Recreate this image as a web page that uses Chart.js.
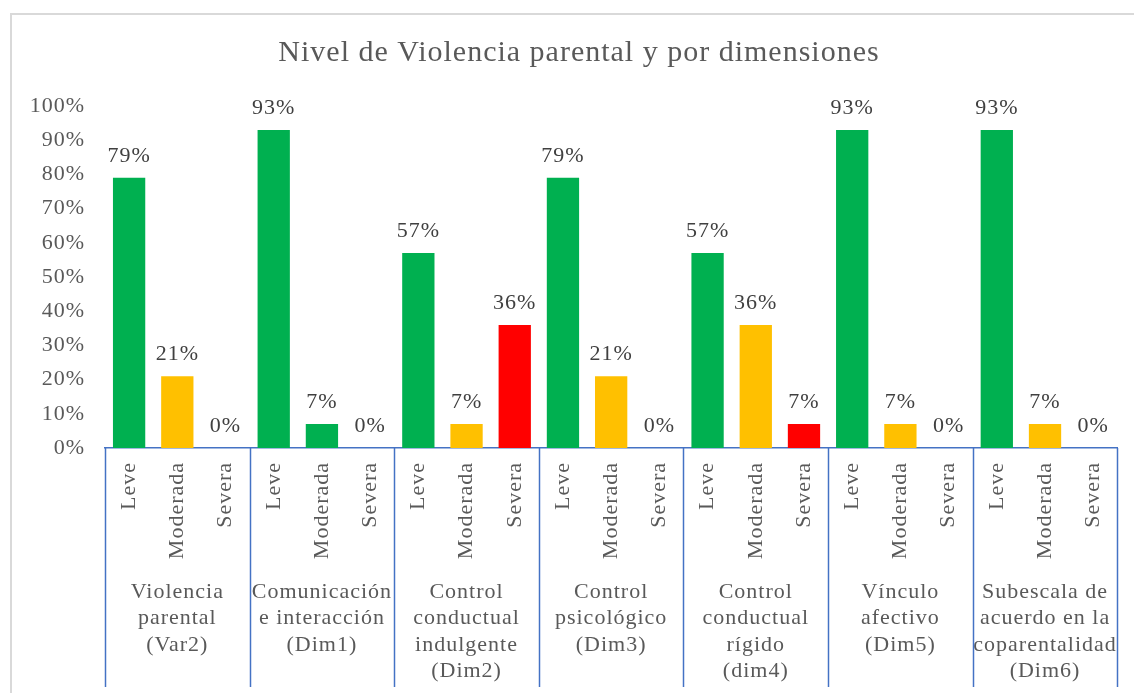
<!DOCTYPE html>
<html>
<head>
<meta charset="utf-8">
<title>Nivel de Violencia parental y por dimensiones</title>
<script src="https://cdn.jsdelivr.net/npm/chart.js@4.4.1/dist/chart.umd.min.js"></script>
<style>
  html, body { margin: 0; padding: 0; background: #fff; }
  #wrap { position: relative; width: 1134px; height: 693px; }
</style>
</head>
<body>
<div id="wrap"><canvas id="chart"></canvas></div>
<script>
// Group labels (second level of the category axis)
const groups = [
  ['Violencia', 'parental', '(Var2)'],
  ['Comunicación', 'e interacción', '(Dim1)'],
  ['Control', 'conductual', 'indulgente', '(Dim2)'],
  ['Control', 'psicológico', '(Dim3)'],
  ['Control', 'conductual', 'rígido', '(dim4)'],
  ['Vínculo', 'afectivo', '(Dim5)'],
  ['Subescala de', 'acuerdo en la', 'coparentalidad', '(Dim6)']
];
const levels = ['Leve', 'Moderada', 'Severa'];

// Percentages per group: Leve, Moderada, Severa
const var2 = [79, 21, 0];
const dim1 = [93, 7, 0];
const dim2 = [57, 7, 36];
const dim3 = [79, 21, 0];
const dim4 = [57, 36, 7];
const dim5 = [93, 7, 0];
const dim6 = [93, 7, 0];

const yTicks = [0, 10, 20, 30, 40, 50, 60, 70, 80, 90, 100];

const labels = groups.flatMap(() => levels);
const values = [...var2, ...dim1, ...dim2, ...dim3, ...dim4, ...dim5, ...dim6];

const levelColors = { Leve: '#00B050', Moderada: '#FFC000', Severa: '#FF0000' };
// in the original the Moderada bar of Dim1 is drawn green
const barColors = labels.map((lv, i) => (i === 4 ? levelColors.Leve : levelColors[lv]));

const FONT = '"Liberation Serif", "Times New Roman", serif';
const BLUE = '#4472C4';

// a bit of letter spacing, the source text is set wide
const spacing = {
  id: 'spacing',
  beforeUpdate(chart) { chart.ctx.letterSpacing = '1px'; },
  beforeDraw(chart) { chart.ctx.letterSpacing = '1px'; }
};

// light grey frame round the chart
const frame = {
  id: 'frame',
  beforeDraw(chart) {
    const ctx = chart.ctx;
    ctx.save();
    ctx.strokeStyle = '#D9D9D9';
    ctx.lineWidth = 2;
    ctx.strokeRect(11, 14, 1300, 900);
    ctx.restore();
  }
};

// value labels above the bars
const valueLabels = {
  id: 'valueLabels',
  afterDatasetsDraw(chart) {
    const ctx = chart.ctx;
    const meta = chart.getDatasetMeta(0);
    ctx.save();
    ctx.font = '22px ' + FONT;
    ctx.fillStyle = '#404040';
    ctx.textAlign = 'center';
    ctx.textBaseline = 'alphabetic';
    meta.data.forEach((bar, i) => {
      ctx.fillText(values[i] + '%', bar.x, bar.y - 16);
    });
    ctx.restore();
  }
};

// blue separators between the groups
const separators = {
  id: 'separators',
  afterDraw(chart) {
    const x = chart.scales.x;
    const x2 = chart.scales.x2;
    const ctx = chart.ctx;
    ctx.save();
    ctx.strokeStyle = BLUE;
    ctx.lineWidth = 1.5;
    for (let g = 0; g <= groups.length; g++) {
      const px = Math.round(x.getPixelForValue(g * levels.length - 0.5)) + 0.5;
      ctx.beginPath();
      ctx.moveTo(px, x.top);
      ctx.lineTo(px, x2.bottom - 6);
      ctx.stroke();
    }
    ctx.restore();
  }
};

new Chart(document.getElementById('chart'), {
  type: 'bar',
  data: {
    labels: labels,
    datasets: [{
      data: values,
      backgroundColor: barColors,
      borderWidth: 0,
      categoryPercentage: 1,
      barPercentage: 0.67
    }]
  },
  options: {
    responsive: true,
    maintainAspectRatio: false,
    animation: false,
    layout: { padding: { left: 24, right: 0, top: 14, bottom: 0 } },
    plugins: {
      legend: { display: false },
      tooltip: { enabled: false },
      title: {
        display: true,
        text: 'Nivel de Violencia parental y por dimensiones',
        color: '#595959',
        font: { family: FONT, size: 30, weight: 'normal' },
        padding: { top: 21, bottom: 35 }
      }
    },
    scales: {
      y: {
        min: 0,
        max: 100,
        afterBuildTicks: s => { s.ticks = yTicks.map(v => ({ value: v })); },
        afterFit: s => { s.width = 81; },
        grid: { display: false, drawTicks: false },
        border: { display: false },
        ticks: {
          padding: 20,
          color: '#595959',
          font: { family: FONT, size: 22 },
          callback: v => v + '%'
        }
      },
      // empty right-hand box, only keeps the plot off the right edge
      yRight: {
        position: 'right',
        min: 0,
        max: 100,
        afterFit: s => { s.width = 16; },
        grid: { display: false, drawTicks: false },
        border: { display: false },
        ticks: { display: false }
      },
      x: {
        weight: 0,
        afterFit: s => { s.height = 127; },
        grid: { display: false, drawTicks: false },
        border: { display: true, color: BLUE, width: 1.5 },
        ticks: {
          autoSkip: false,
          minRotation: 90,
          maxRotation: 90,
          padding: 14,
          color: '#595959',
          font: { family: FONT, size: 22 }
        }
      },
      x2: {
        type: 'category',
        position: 'bottom',
        weight: 1,
        labels: groups,
        offset: true,
        afterFit: s => { s.height = 118; },
        grid: { display: false, drawTicks: false },
        border: { display: false },
        ticks: {
          autoSkip: false,
          minRotation: 0,
          maxRotation: 0,
          padding: 4,
          color: '#595959',
          font: { family: FONT, size: 22, lineHeight: 1.2 }
        }
      }
    }
  },
  plugins: [spacing, frame, valueLabels, separators]
});
</script>
</body>
</html>
